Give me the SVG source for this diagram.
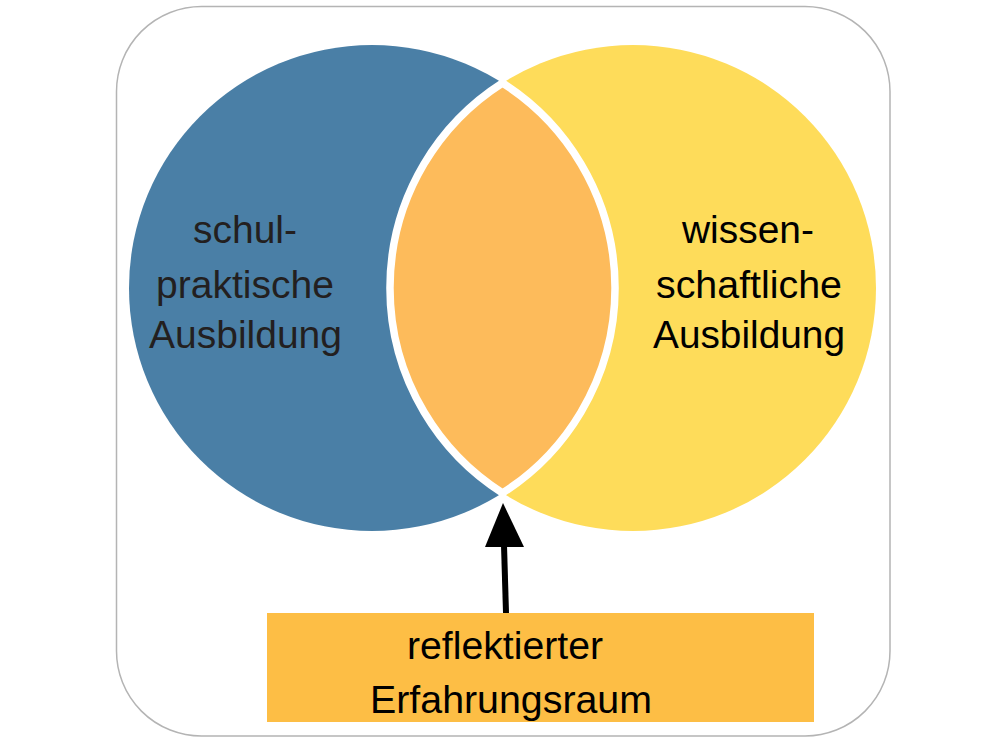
<svg xmlns="http://www.w3.org/2000/svg" width="992" height="742" viewBox="0 0 992 742">
<style>
.t{font-family:"Liberation Sans",Arial,sans-serif;font-size:38px;text-anchor:middle}
.dk{fill:#231f20}
.bk{fill:#000}
</style>
<rect x="0" y="0" width="992" height="742" fill="#fff"/>
<g id="frame"><rect x="116.5" y="6.5" width="773.5" height="729.5" rx="85" ry="85" fill="#fff" stroke="#b4b4b4" stroke-width="1.5"/></g>
<g id="schulpraktisch">
<circle cx="372" cy="288" r="243" fill="#4a7fa6"/>
<text class="t dk" x="245" y="243" textLength="104" lengthAdjust="spacingAndGlyphs">schul-</text>
<text class="t dk" x="245" y="298" textLength="178" lengthAdjust="spacingAndGlyphs">praktische</text>
<text class="t dk" x="245.5" y="348" textLength="193" lengthAdjust="spacingAndGlyphs">Ausbildung</text>
</g>
<g id="wissenschaftlich">
<circle cx="633" cy="288" r="243" fill="#fedc5a"/>
<text class="t bk" x="748" y="243" textLength="132" lengthAdjust="spacingAndGlyphs">wissen-</text>
<text class="t bk" x="749" y="298" textLength="186" lengthAdjust="spacingAndGlyphs">schaftliche</text>
<text class="t bk" x="749" y="348" textLength="192" lengthAdjust="spacingAndGlyphs">Ausbildung</text>
</g>
<g id="schnittmenge">
<path d="M502.5 83 A243 243 0 0 1 502.5 493 A243 243 0 0 1 502.5 83 Z" fill="#fdbb5b" stroke="#fff" stroke-width="7.5" stroke-linejoin="miter" stroke-miterlimit="10"/>
</g>
<g id="erfahrungsraum">
<rect x="267" y="613" width="547" height="109" fill="#fdbe45"/>
<text class="t bk" x="505" y="659" textLength="196" lengthAdjust="spacingAndGlyphs">reflektierter</text>
<text class="t bk" x="511" y="713" textLength="282" lengthAdjust="spacingAndGlyphs">Erfahrungsraum</text>
</g>
<g id="connectors">
<line x1="506" y1="613" x2="504" y2="545" stroke="#000" stroke-width="6"/>
<path d="M503 503 L524 547 L485 547 Z" fill="#000"/>
</g>
</svg>
